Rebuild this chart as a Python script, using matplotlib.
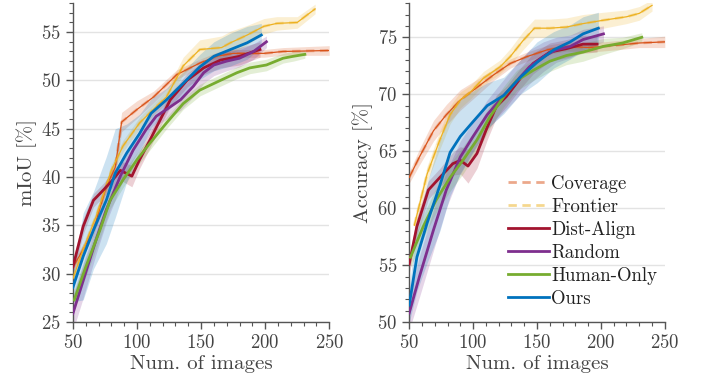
import numpy as np
import matplotlib
matplotlib.use("Agg")
import matplotlib.pyplot as plt
from matplotlib.lines import Line2D
from matplotlib.ticker import MultipleLocator

plt.rcParams["font.family"] = "cmr10"
plt.rcParams["mathtext.fontset"] = "cm"
plt.rcParams["axes.formatter.use_mathtext"] = True

# ---- mIoU (left panel) ----
miou_cov_x = [50, 58, 66, 76, 83, 88, 100, 113, 131, 149, 162, 175, 199, 214, 250]
miou_cov_y = [30.7, 32.5, 34.5, 39.0, 41.0, 45.7, 47.0, 48.3, 50.6, 51.8, 52.5, 52.8, 52.8, 53.0, 53.1]
miou_cov_s = [0.6, 0.6, 0.6, 0.7, 0.8, 1.0, 0.9, 0.6, 0.5, 0.4, 0.4, 0.4, 0.4, 0.4, 0.5]

miou_fro_x = [50, 58, 68, 80, 89, 102, 115, 123, 136, 149, 166, 173, 186, 199, 209, 225, 239]
miou_fro_y = [29.5, 32.5, 35.9, 40.7, 43.2, 45.6, 47.3, 48.3, 51.5, 53.2, 53.4, 53.9, 54.7, 55.6, 55.9, 56.0, 57.4]
miou_fro_s = [0.6, 0.6, 0.6, 0.6, 0.6, 0.6, 0.6, 0.7, 0.9, 1.0, 1.2, 1.2, 1.0, 0.8, 0.7, 0.6, 0.5]

miou_da_x = [50, 58, 66, 74, 81, 87, 96, 102, 110, 118, 126, 139, 152, 165, 180, 196]
miou_da_y = [30.7, 34.9, 37.6, 38.7, 39.7, 40.7, 40.1, 41.8, 43.8, 45.9, 48.0, 50.0, 51.3, 52.1, 52.5, 53.2]
miou_da_s = [0.8, 0.8, 0.7, 0.7, 0.8, 1.0, 1.1, 0.9, 0.8, 0.7, 0.7, 0.7, 0.7, 0.8, 0.9, 0.8]

miou_rnd_x = [50, 58, 68, 76, 87, 97, 107, 115, 123, 134, 144, 152, 160, 170, 180, 191, 201]
miou_rnd_y = [25.9, 29.3, 33.5, 36.6, 40.1, 42.8, 44.9, 46.3, 47.0, 48.0, 49.4, 50.8, 51.6, 52.0, 52.3, 53.0, 54.0]
miou_rnd_s = [1.8, 1.8, 1.5, 1.3, 1.1, 1.0, 1.0, 1.0, 1.0, 1.1, 1.1, 1.1, 1.1, 1.0, 0.9, 0.8, 0.6]

miou_hum_x = [51, 60, 71, 79, 89, 100, 110, 123, 136, 149, 165, 178, 188, 201, 214, 222, 231]
miou_hum_y = [27.3, 30.7, 34.5, 37.6, 39.7, 41.8, 43.5, 45.6, 47.6, 49.0, 50.0, 50.8, 51.3, 51.6, 52.3, 52.5, 52.7]
miou_hum_s = [1.0, 1.0, 0.9, 0.9, 0.8, 0.7, 0.7, 0.6, 0.6, 0.6, 0.6, 0.6, 0.6, 0.6, 0.5, 0.5, 0.4]

miou_our_x = [50, 58, 66, 76, 83, 92, 102, 111, 123, 136, 149, 160, 173, 186, 197]
miou_our_y = [28.6, 31.8, 34.5, 37.6, 40.4, 42.5, 44.5, 46.6, 48.0, 49.7, 51.4, 52.5, 53.2, 53.9, 54.7]
miou_our_s = [1.5, 4.5, 4.0, 4.5, 4.6, 3.0, 2.0, 1.5, 1.2, 1.2, 1.3, 1.5, 1.7, 1.7, 1.2]

# ---- Accuracy (right panel) ----
acc_cov_x = [50, 58, 69, 79, 90, 103, 116, 129, 142, 158, 173, 191, 212, 230, 250]
acc_cov_y = [62.7, 64.5, 66.8, 68.2, 69.5, 70.6, 71.7, 72.7, 73.3, 73.9, 74.2, 74.1, 74.3, 74.5, 74.6]
acc_cov_s = [0.5, 0.7, 0.9, 0.9, 0.9, 0.7, 0.5, 0.4, 0.4, 0.4, 0.4, 0.4, 0.4, 0.4, 0.5]

acc_fro_x = [54, 64, 74, 82, 90, 98, 108, 121, 129, 139, 148, 160, 173, 186, 202, 220, 230, 240]
acc_fro_y = [58.5, 63.0, 66.0, 68.2, 69.5, 70.2, 71.4, 72.4, 73.3, 74.7, 75.8, 75.8, 75.9, 76.2, 76.5, 76.8, 77.1, 77.8]
acc_fro_s = [0.6, 0.7, 0.8, 0.8, 0.7, 0.6, 0.6, 0.6, 0.7, 0.8, 0.8, 0.8, 0.8, 0.8, 0.7, 0.6, 0.6, 0.5]

acc_da_x = [50, 56, 65, 74, 84, 90, 96, 103, 111, 118, 126, 137, 147, 160, 173, 186, 197]
acc_da_y = [55.1, 58.4, 61.6, 62.7, 63.9, 64.2, 63.7, 64.8, 67.1, 68.9, 69.8, 71.4, 72.7, 73.7, 74.0, 74.4, 74.4]
acc_da_s = [0.8, 0.8, 0.8, 0.8, 1.0, 1.2, 1.5, 1.3, 1.1, 1.0, 0.9, 0.9, 0.9, 0.8, 0.8, 0.8, 0.7]

acc_rnd_x = [50, 58, 69, 79, 90, 100, 111, 121, 132, 144, 155, 165, 176, 186, 202]
acc_rnd_y = [50.8, 54.0, 58.1, 61.6, 64.5, 66.3, 68.2, 69.5, 70.9, 72.4, 73.3, 73.9, 74.2, 74.8, 75.3]
acc_rnd_s = [1.5, 1.8, 1.8, 1.6, 1.4, 1.3, 1.3, 1.4, 1.5, 1.5, 1.3, 1.1, 1.0, 0.9, 0.7]

acc_hum_x = [51, 61, 71, 82, 92, 103, 113, 124, 134, 147, 160, 173, 186, 202, 217, 232]
acc_hum_y = [55.7, 58.4, 60.7, 62.7, 64.2, 66.0, 68.0, 69.8, 71.2, 72.1, 72.9, 73.4, 73.7, 74.2, 74.5, 75.0]
acc_hum_s = [0.9, 1.0, 1.1, 1.2, 1.2, 1.1, 1.0, 0.9, 0.9, 0.9, 0.9, 0.8, 0.8, 0.7, 0.5, 0.4]

acc_our_x = [50, 56, 64, 74, 82, 90, 100, 111, 124, 137, 150, 163, 176, 186, 198]
acc_our_y = [51.5, 55.7, 58.7, 62.0, 64.9, 66.3, 67.6, 69.0, 69.9, 71.5, 72.8, 73.9, 74.6, 75.3, 75.8]
acc_our_s = [1.5, 3.0, 3.5, 4.0, 3.8, 3.3, 2.7, 2.0, 1.6, 1.5, 1.8, 1.6, 1.5, 1.5, 1.4]

labels = ["Coverage", "Frontier", "Dist-Align", "Random", "Human-Only", "Ours"]
colors = ["#D95319", "#EDB120", "#A2142F", "#7E2F8E", "#77AC30", "#0072BD"]
dashed = [True, True, False, False, False, False]

miou = [(miou_cov_x, miou_cov_y, miou_cov_s), (miou_fro_x, miou_fro_y, miou_fro_s),
        (miou_da_x, miou_da_y, miou_da_s), (miou_rnd_x, miou_rnd_y, miou_rnd_s),
        (miou_hum_x, miou_hum_y, miou_hum_s), (miou_our_x, miou_our_y, miou_our_s)]
acc = [(acc_cov_x, acc_cov_y, acc_cov_s), (acc_fro_x, acc_fro_y, acc_fro_s),
       (acc_da_x, acc_da_y, acc_da_s), (acc_rnd_x, acc_rnd_y, acc_rnd_s),
       (acc_hum_x, acc_hum_y, acc_hum_s), (acc_our_x, acc_our_y, acc_our_s)]

fig = plt.figure(figsize=(7.08, 3.9), dpi=100)
ax1 = fig.add_axes([0.103, 0.174, 0.362, 0.818])
ax2 = fig.add_axes([0.578, 0.174, 0.361, 0.818])

tick_col = "#444444"


def draw_panel(ax, series, ylim, ylabel):
    for (x, y, s), c, d in zip(series, colors, dashed):
        x = np.array(x)
        y = np.array(y)
        s = np.array(s)
        ax.fill_between(x, y - s, y + s, color=c, alpha=0.2, lw=0, zorder=2)
    for (x, y, s), c, d in zip(series, colors, dashed):
        if d:
            ax.plot(x, y, color=c, lw=0.9, zorder=3)
            ax.plot(x, y, color=c, lw=2.0, ls=(0, (3, 2)), alpha=0.35, zorder=3)
        else:
            ax.plot(x, y, color=c, lw=2.0, zorder=4)
    ax.set_xlim(50, 250)
    ax.set_ylim(*ylim)
    ax.xaxis.set_major_locator(MultipleLocator(50))
    ax.xaxis.set_minor_locator(MultipleLocator(10))
    ax.yaxis.set_major_locator(MultipleLocator(5))
    ax.yaxis.set_minor_locator(MultipleLocator(1))
    ax.grid(axis="y", which="major", color="#e3e3e3", lw=1.0, zorder=0)
    ax.set_axisbelow(True)
    for side in ["top", "right"]:
        ax.spines[side].set_visible(False)
    for side in ["left", "bottom"]:
        ax.spines[side].set_color("#555555")
        ax.spines[side].set_linewidth(1.0)
    ax.tick_params(which="major", length=5, width=1.0, color="#555555",
                   labelsize=13.5, labelcolor=tick_col)
    ax.tick_params(which="minor", length=3, width=0.8, color="#555555")
    ax.set_xlabel("Num. of images", fontsize=15, color=tick_col, labelpad=2)
    ax.set_ylabel(ylabel, fontsize=15, color=tick_col, labelpad=3)


draw_panel(ax1, miou, (25, 58), "mIoU [%]")
draw_panel(ax2, acc, (50, 78), "Accuracy [%]")

handles = []
for c, d, lab in zip(colors, dashed, labels):
    if d:
        handles.append(Line2D([], [], color=c, lw=2.0, ls=(0, (3, 2)), alpha=0.5, label=lab))
    else:
        handles.append(Line2D([], [], color=c, lw=2.0, label=lab))
ax2.legend(handles=handles, loc="lower right", bbox_to_anchor=(1.0, 0.022),
           frameon=False, fontsize=13.5, handlelength=2.2, handletextpad=0.1,
           labelspacing=0.27, borderaxespad=0.0, labelcolor="#222222")

fig.savefig("out.png", dpi=100)
